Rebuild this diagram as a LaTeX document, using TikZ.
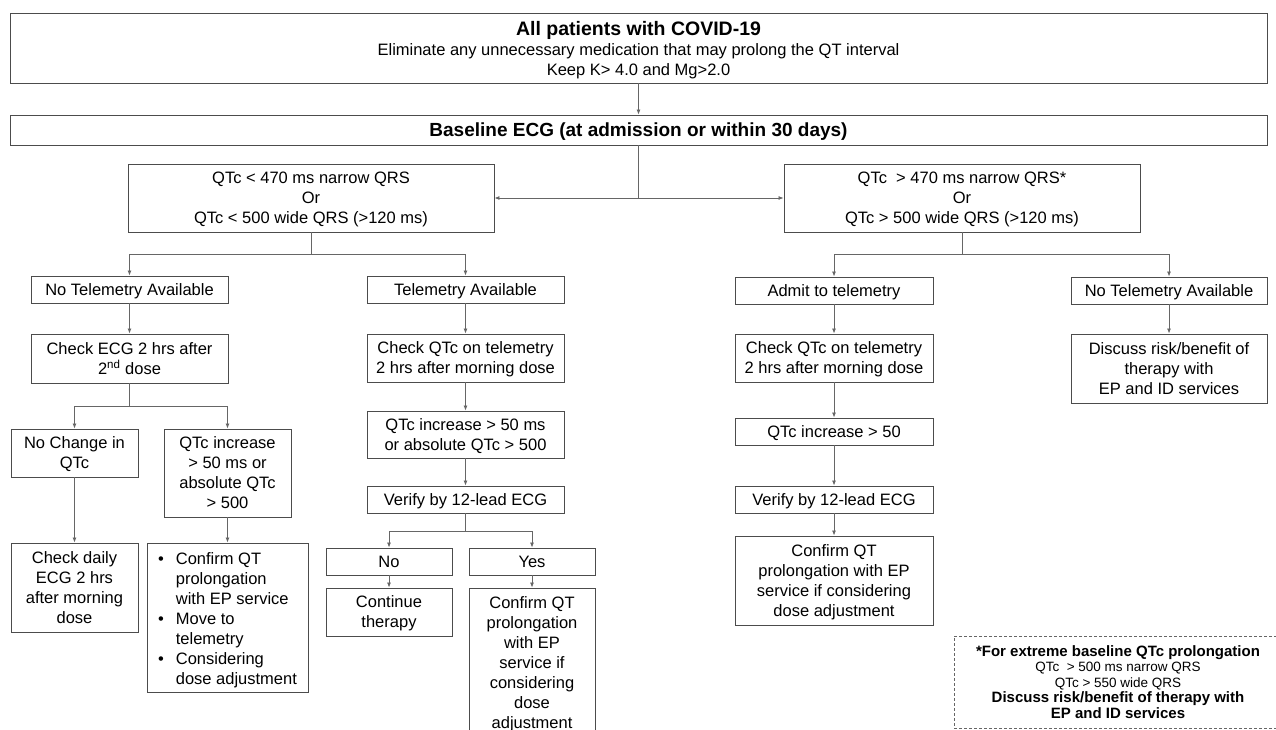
\documentclass[tikz,border=0pt]{standalone}
\usepackage{fontspec}
\setmainfont{Liberation Sans}
\usepackage{tikz}
\usetikzlibrary{arrows.meta}

\begin{document}
\begin{tikzpicture}[x=1pt,y=-1pt,
  box/.style={draw=black!70, line width=0.9pt, align=center, inner sep=0pt, text depth=0pt, font=\fontsize{16.5}{20}\selectfont},
  line/.style={draw=black!60, line width=0.8pt},
  arr/.style={line, -{Latex[length=5pt,width=4pt]}}]
  \clip (0,0) rectangle (1276,730);
  \node[box, minimum width=1257pt, minimum height=70pt] (all) at (638.5,48) {{\fontsize{19.5}{21}\selectfont\bfseries All patients with COVID-19}\\ Eliminate any unnecessary medication that may prolong the QT interval\\ Keep K> 4.0 and Mg>2.0};
  \node[box, minimum width=1257pt, minimum height=30pt, font=\fontsize{19}{21}\selectfont\bfseries] (base) at (638.5,130) {Baseline ECG (at admission or within 30 days)};
  \node[box, minimum width=366pt, minimum height=68pt] (qlow) at (311,198) {QTc < 470 ms narrow QRS\\ Or\\ QTc < 500 wide QRS (>120 ms)};
  \node[box, minimum width=356pt, minimum height=68pt] (qhigh) at (962,198) {QTc\ \ > 470 ms narrow QRS*\\ Or\\ QTc > 500 wide QRS (>120 ms)};
  \node[box, minimum width=197pt, minimum height=27pt] (notel) at (129.5,289.5) {No Telemetry Available};
  \node[box, minimum width=197pt, minimum height=27pt] (tel) at (465.5,289.5) {Telemetry Available};
  \node[box, minimum width=197pt, minimum height=49pt] (chkecg) at (129.5,358.5) {Check ECG 2 hrs after\\ 2\textsuperscript{nd} dose};
  \node[box, minimum width=197pt, minimum height=48pt] (chkqtc) at (465.5,358) {Check QTc on telemetry\\ 2 hrs after morning dose};
  \node[box, minimum width=127pt, minimum height=48pt] (nochg) at (74.5,453) {No Change in\\ QTc};
  \node[box, minimum width=127pt, minimum height=88pt] (qinc) at (227.5,473) {QTc increase\\ > 50 ms or\\ absolute QTc\\ > 500};
  \node[box, minimum width=127pt, minimum height=89pt] (daily) at (74.5,587.5) {Check daily\\ ECG 2 hrs\\ after morning\\ dose};
  \node[box, minimum width=161pt, minimum height=149pt] (bull) at (227.5,617.5) {\begin{tabular}[b]{@{}l@{\hspace{12pt}}l@{}}
    \textbullet & Confirm QT\\ & prolongation\\ & with EP service\\
    \textbullet & Move to\\ & telemetry\\
    \textbullet & Considering\\ & dose adjustment\end{tabular}};
  \node[box, minimum width=197pt, minimum height=47pt] (qincm) at (465.5,434.5) {QTc increase > 50 ms\\ or absolute QTc > 500};
  \node[box, minimum width=197pt, minimum height=27pt] (verm) at (465.5,499.5) {Verify by 12-lead ECG};
  \node[box, minimum width=126pt, minimum height=27pt] (no) at (389,561.5) {No};
  \node[box, minimum width=126pt, minimum height=27pt] (yes) at (532,561.5) {Yes};
  \node[box, minimum width=126pt, minimum height=48pt] (cont) at (389,612) {Continue\\ therapy};
  \node[box, minimum width=126pt, minimum height=150pt] (confy) at (532,663) {Confirm QT\\ prolongation\\ with EP\\ service if\\ considering\\ dose\\ adjustment};
  \node[box, minimum width=198pt, minimum height=27pt] (adm) at (834,290.5) {Admit to telemetry};
  \node[box, minimum width=196pt, minimum height=27pt] (notelr) at (1169,290.5) {No Telemetry Available};
  \node[box, minimum width=198pt, minimum height=48pt] (chkqtcr) at (834,358) {Check QTc on telemetry\\ 2 hrs after morning dose};
  \node[box, minimum width=196pt, minimum height=69pt] (disc) at (1169,368.5) {Discuss risk/benefit of\\ therapy with\\ EP and ID services};
  \node[box, minimum width=198pt, minimum height=27pt] (qincr) at (834,431.5) {QTc increase > 50};
  \node[box, minimum width=198pt, minimum height=27pt] (verr) at (834,499.5) {Verify by 12-lead ECG};
  \node[box, minimum width=198pt, minimum height=89pt] (confr) at (834,580.5) {Confirm QT\\ prolongation with EP\\ service if considering\\ dose adjustment};
  \node[box, draw=black!60, line width=0.8pt, dash pattern=on 3pt off 2pt, minimum width=328pt, minimum height=92pt, font=\fontsize{13.5}{15.5}\selectfont] (note) at (1118,682) {{\fontsize{15}{16}\selectfont\bfseries *For extreme baseline QTc prolongation}\\ QTc\ \ > 500 ms narrow QRS\\ QTc > 550 wide QRS\\ {\fontsize{15}{16}\selectfont\bfseries Discuss risk/benefit of therapy with}\\ {\fontsize{15}{16}\selectfont\bfseries EP and ID services}};
  \coordinate (j0) at (638.5,198);
  \coordinate (s1) at (311,254);
  \coordinate (s2) at (129.5,406);
  \coordinate (s3) at (465.5,531);
  \coordinate (s4) at (962,254);
  \draw[arr] (all) -- (base);
  \draw[line] (base) -- (j0);
  \draw[arr] (j0) -- (qlow);
  \draw[arr] (j0) -- (qhigh);
  \draw[line] (qlow) -- (s1);
  \draw[arr] (s1) -| (notel);
  \draw[arr] (s1) -| (tel);
  \draw[arr] (notel) -- (chkecg);
  \draw[arr] (tel) -- (chkqtc);
  \draw[line] (chkecg) -- (s2);
  \draw[arr] (s2) -| (nochg);
  \draw[arr] (s2) -| (qinc);
  \draw[arr] (nochg) -- (daily);
  \draw[arr] (qinc) -- (bull);
  \draw[arr] (chkqtc) -- (qincm);
  \draw[arr] (qincm) -- (verm);
  \draw[line] (verm) -- (s3);
  \draw[arr] (s3) -| (no);
  \draw[arr] (s3) -| (yes);
  \draw[arr] (no) -- (cont);
  \draw[arr] (yes) -- (confy);
  \draw[line] (qhigh) -- (s4);
  \draw[arr] (s4) -| (adm);
  \draw[arr] (s4) -| (notelr);
  \draw[arr] (adm) -- (chkqtcr);
  \draw[arr] (chkqtcr) -- (qincr);
  \draw[arr] (qincr) -- (verr);
  \draw[arr] (verr) -- (confr);
  \draw[arr] (notelr) -- (disc);
\end{tikzpicture}
\end{document}
